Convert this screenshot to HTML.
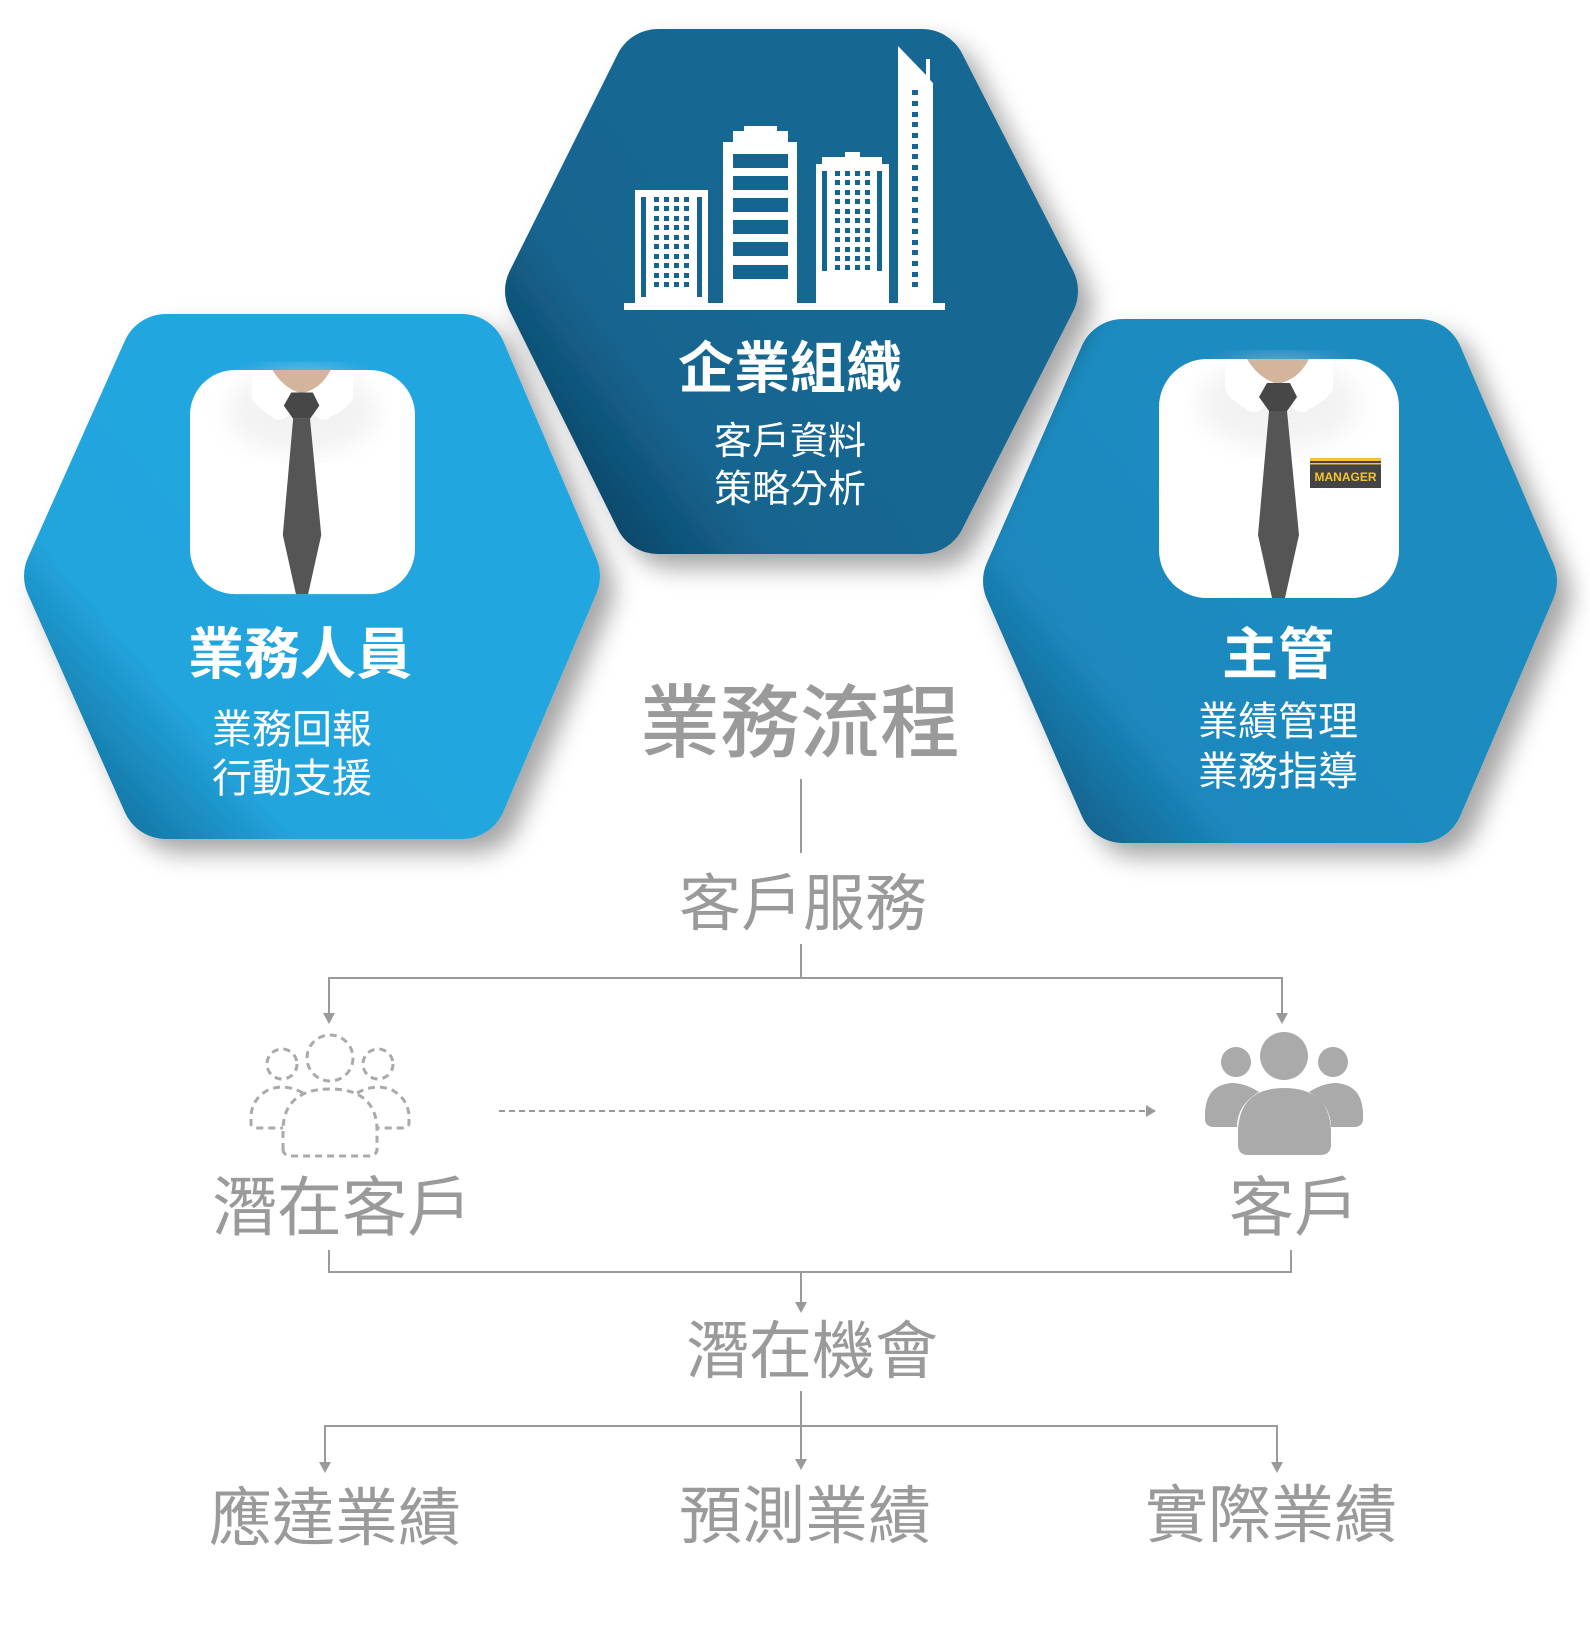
<!DOCTYPE html>
<html><head><meta charset="utf-8"><style>
html,body{margin:0;padding:0;background:#fff}
svg{display:block}
text{font-family:"Liberation Sans","Noto Sans CJK TC",sans-serif}
</style></head><body>
<svg width="1590" height="1640" viewBox="0 0 1590 1640" xmlns="http://www.w3.org/2000/svg">
<defs>
<linearGradient id="gc" gradientUnits="userSpaceOnUse" x1="500" y1="520" x2="800" y2="300">
<stop offset="0" stop-color="#0a3350"/><stop offset="0.55" stop-color="#146590"/><stop offset="1" stop-color="#156792"/></linearGradient>
<linearGradient id="gl" gradientUnits="userSpaceOnUse" x1="20" y1="800" x2="300" y2="560">
<stop offset="0" stop-color="#0f5f8a"/><stop offset="0.5" stop-color="#22a4dc"/><stop offset="1" stop-color="#23a6df"/></linearGradient>
<linearGradient id="gr" gradientUnits="userSpaceOnUse" x1="980" y1="800" x2="1250" y2="580">
<stop offset="0" stop-color="#0d4f75"/><stop offset="0.5" stop-color="#1b88bd"/><stop offset="1" stop-color="#1c8bc0"/></linearGradient>
<filter id="sh" x="-20%" y="-20%" width="150%" height="150%"><feDropShadow dx="14" dy="14" stdDeviation="12" flood-color="#000" flood-opacity="0.35"/></filter>
<filter id="bl"><feGaussianBlur stdDeviation="12"/></filter>
<g id="shirt">
<rect x="0" y="0" width="240" height="239" rx="48" fill="#fff"/>
<ellipse cx="120" cy="45" rx="80" ry="45" fill="#e6e6e6" opacity="0.5" filter="url(#bl)"/>
<path d="M79 0 H158 Q150 24 119 25 Q88 24 79 0Z" fill="#d3b59c"/>
<path d="M66 0 H88 Q100 20 119 25 L103 50 Q92 56 88 50 Q70 40 66 30Z" fill="#fff"/>
<path d="M174 0 H150 Q140 20 119 25 L135 50 Q146 56 150 50 Q170 40 174 30Z" fill="#fff"/>
<path d="M108 24 H131 L138 38 L128 52 H110 L100 38Z" fill="#474747"/>
<path d="M110 52 H128 L140 176 L126 239 H113 L99 176Z" fill="#555"/>
</g>
</defs>

<g filter="url(#sh)">
<polygon points="69,576 166,359 462,359 555,576 462,794 166,794" fill="url(#gl)" stroke="url(#gl)" stroke-width="90" stroke-linejoin="round"/>
</g>
<g filter="url(#sh)">
<polygon points="1028,581 1123,364 1419,364 1512,581 1419,798 1123,798" fill="url(#gr)" stroke="url(#gr)" stroke-width="90" stroke-linejoin="round"/>
</g>
<g filter="url(#sh)">
<polygon points="550,291 658,74 922,74 1033,291 922,509 658,509" fill="url(#gc)" stroke="url(#gc)" stroke-width="90" stroke-linejoin="round"/>
</g>

<g fill="#fff">
<rect x="624" y="303" width="321" height="7"/>
<rect x="635" y="190" width="73" height="114"/>
<path d="M723 304 V142 H733 V131 H744 V126 H777 V131 H788 V142 H797 V304Z"/>
<path d="M816 304 V164 H822 V157 H845 V152 H860 V157 H882 V164 H889 V304Z"/>
<path d="M898 304 V46 L926 75 V59 H930 V80 L933 83 V304Z"/>
</g>
<g fill="#146590">
<rect x="641" y="197" width="5" height="100"/><rect x="697" y="197" width="5" height="100"/>
<rect x="822" y="171" width="5" height="100"/><rect x="877" y="171" width="5" height="100"/>
<rect x="733" y="154" width="55" height="14"/><rect x="733" y="176" width="55" height="14"/>
<rect x="733" y="198" width="55" height="14"/><rect x="733" y="220" width="55" height="14"/>
<rect x="733" y="242" width="55" height="14"/><rect x="733" y="265" width="55" height="14"/>
</g>
<g fill="#146590" id="w1">
<rect x="654" y="197" width="5" height="5"/><rect x="664" y="197" width="5" height="5"/><rect x="674" y="197" width="5" height="5"/><rect x="684" y="197" width="5" height="5"/>
<rect x="654" y="206" width="5" height="5"/><rect x="664" y="206" width="5" height="5"/><rect x="674" y="206" width="5" height="5"/><rect x="684" y="206" width="5" height="5"/>
<rect x="654" y="216" width="5" height="5"/><rect x="664" y="216" width="5" height="5"/><rect x="674" y="216" width="5" height="5"/><rect x="684" y="216" width="5" height="5"/>
<rect x="654" y="225" width="5" height="5"/><rect x="664" y="225" width="5" height="5"/><rect x="674" y="225" width="5" height="5"/><rect x="684" y="225" width="5" height="5"/>
<rect x="654" y="235" width="5" height="5"/><rect x="664" y="235" width="5" height="5"/><rect x="674" y="235" width="5" height="5"/><rect x="684" y="235" width="5" height="5"/>
<rect x="654" y="244" width="5" height="5"/><rect x="664" y="244" width="5" height="5"/><rect x="674" y="244" width="5" height="5"/><rect x="684" y="244" width="5" height="5"/>
<rect x="654" y="254" width="5" height="5"/><rect x="664" y="254" width="5" height="5"/><rect x="674" y="254" width="5" height="5"/><rect x="684" y="254" width="5" height="5"/>
<rect x="654" y="263" width="5" height="5"/><rect x="664" y="263" width="5" height="5"/><rect x="674" y="263" width="5" height="5"/><rect x="684" y="263" width="5" height="5"/>
<rect x="654" y="273" width="5" height="5"/><rect x="664" y="273" width="5" height="5"/><rect x="674" y="273" width="5" height="5"/><rect x="684" y="273" width="5" height="5"/>
<rect x="654" y="282" width="5" height="5"/><rect x="664" y="282" width="5" height="5"/><rect x="674" y="282" width="5" height="5"/><rect x="684" y="282" width="5" height="5"/>
</g>
<use href="#w1" transform="translate(181,-26)"/>
<g fill="#146590">
<rect x="835" y="265" width="5" height="5"/><rect x="845" y="265" width="5" height="5"/><rect x="855" y="265" width="5" height="5"/><rect x="865" y="265" width="5" height="5"/>
<rect x="912" y="90" width="6" height="5"/><rect x="912" y="101" width="6" height="5"/><rect x="912" y="112" width="6" height="5"/><rect x="912" y="122" width="6" height="5"/>
<rect x="912" y="133" width="6" height="5"/><rect x="912" y="144" width="6" height="5"/><rect x="912" y="154" width="6" height="5"/><rect x="912" y="165" width="6" height="5"/>
<rect x="912" y="176" width="6" height="5"/><rect x="912" y="186" width="6" height="5"/><rect x="912" y="197" width="6" height="5"/><rect x="912" y="208" width="6" height="5"/>
<rect x="912" y="218" width="6" height="5"/><rect x="912" y="229" width="6" height="5"/><rect x="912" y="240" width="6" height="5"/><rect x="912" y="250" width="6" height="5"/>
<rect x="912" y="261" width="6" height="5"/><rect x="912" y="272" width="6" height="5"/><rect x="912" y="282" width="6" height="5"/>
</g>

<use href="#shirt" transform="translate(190,370) scale(0.9375)"/>
<use href="#shirt" transform="translate(1159,359)"/>
<rect x="1310" y="458" width="71" height="30" fill="#444"/>
<rect x="1310" y="458" width="71" height="3" fill="#f5c431"/>
<rect x="1310" y="463" width="71" height="1.5" fill="#f5c431"/>
<text x="1345.5" y="481" font-size="12" font-weight="700" fill="#f5c431" text-anchor="middle">MANAGER</text>

<g fill="#fff" text-anchor="middle">
<text x="790" y="388" font-size="56" font-weight="700">企業組織</text>
<text x="790" y="454" font-size="38">客戶資料</text>
<text x="790" y="502" font-size="38">策略分析</text>
<text x="300" y="674" font-size="56" font-weight="700">業務人員</text>
<text x="292" y="743" font-size="40">業務回報</text>
<text x="292" y="792" font-size="40">行動支援</text>
<text x="1278" y="674" font-size="56" font-weight="700">主管</text>
<text x="1278" y="735" font-size="40">業績管理</text>
<text x="1278" y="785" font-size="40">業務指導</text>
</g>

<g fill="#9a9a9a" text-anchor="middle">
<text x="800" y="751" font-size="80" font-weight="500">業務流程</text>
<text x="803" y="925" font-size="62">客戶服務</text>
<text x="342" y="1230" font-size="65">潛在客戶</text>
<text x="1294" y="1230" font-size="65">客戶</text>
<text x="812" y="1373" font-size="63">潛在機會</text>
<text x="335" y="1540" font-size="63">應達業績</text>
<text x="805" y="1538" font-size="63">預測業績</text>
<text x="1271" y="1537" font-size="63">實際業績</text>
</g>

<g stroke="#9a9a9a" stroke-width="2" fill="none">
<line x1="801" y1="779" x2="801" y2="853"/>
<line x1="801" y1="944" x2="801" y2="978"/>
<polyline points="329,1015 329,978 1282,978 1282,1015"/>
<polyline points="329,1250 329,1272 1291,1272 1291,1250"/>
<line x1="801" y1="1272" x2="801" y2="1304"/>
<line x1="801" y1="1391" x2="801" y2="1461"/>
<polyline points="325,1464 325,1426 1277,1426 1277,1464"/>
<line x1="499" y1="1111" x2="1148" y2="1111" stroke-dasharray="6,4"/>
</g>
<g fill="#9a9a9a">
<polygon points="323,1013 335,1013 329,1024"/>
<polygon points="1276,1013 1288,1013 1282,1024"/>
<polygon points="795,1302 807,1302 801,1313"/>
<polygon points="795,1459 807,1459 801,1470"/>
<polygon points="319,1462 331,1462 325,1473"/>
<polygon points="1271,1462 1283,1462 1277,1473"/>
<polygon points="1146,1105 1146,1117 1156,1111"/>
</g>

<g stroke="#aaa" stroke-width="3" fill="none" stroke-dasharray="7,5">
<circle cx="330" cy="1058" r="23"/>
<circle cx="282" cy="1064" r="15"/>
<circle cx="378" cy="1064" r="15"/>
<path d="M303 1093 Q285 1083 268 1090 Q250 1100 251 1120 V1124 Q252 1128 258 1128 H283"/>
<path d="M357 1093 Q375 1083 392 1090 Q410 1100 409 1120 V1124 Q408 1128 402 1128 H377"/>
<path d="M283 1150 V1128 Q285 1089 330 1089 Q375 1089 377 1128 V1150 Q376 1156 368 1156 H292 Q284 1156 283 1150Z"/>
</g>
<g fill="#aaa">
<circle cx="1284" cy="1056" r="24"/>
<circle cx="1236" cy="1062" r="15"/>
<circle cx="1333" cy="1062" r="15"/>
<path d="M1259 1092 Q1245 1083 1232 1083 Q1205 1085 1205 1115 V1120 Q1206 1127 1214 1127 H1237 Q1237 1105 1259 1092Z"/>
<path d="M1309 1092 Q1323 1083 1336 1083 Q1363 1085 1363 1115 V1120 Q1362 1127 1354 1127 H1331 Q1331 1105 1309 1092Z"/>
<path d="M1238 1146 V1130 Q1240 1088 1284 1088 Q1329 1088 1331 1130 V1146 Q1330 1155 1320 1155 H1248 Q1239 1155 1238 1146Z"/>
</g>
</svg>
</body></html>
